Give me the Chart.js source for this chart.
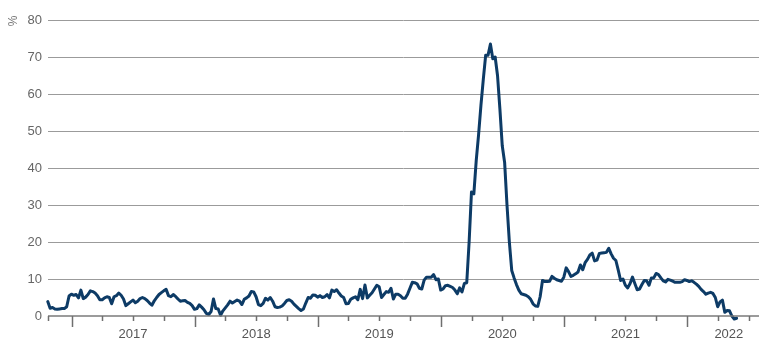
<!DOCTYPE html>
<html><head><meta charset="utf-8">
<script src="https://cdn.jsdelivr.net/npm/chart.js@4/dist/chart.umd.min.js"></script>
<style>html,body{margin:0;padding:0;background:#fff}#wrap{width:770px;height:350px;position:relative}</style>
</head><body><div id="wrap"><canvas id="c" width="770" height="350"></canvas></div>
<script>
// weekly series, first observation late Oct 2016
const startYear = 2016.807;
const weeksPerYear = 52;
const values = [
3.9,2.1,2.3,1.9,1.8,1.9,2.0,2.0,2.5,5.4,
5.9,5.6,5.8,4.9,7.0,4.7,5.1,5.8,6.8,6.6,
6.2,5.5,4.4,4.4,4.9,5.2,5.0,3.3,5.2,5.5,
6.2,5.6,4.6,2.8,3.3,3.8,4.3,3.6,4.0,4.7,
5.0,4.7,4.2,3.5,2.9,4.1,5.0,5.8,6.3,6.8,
7.2,5.5,5.2,5.8,5.3,4.6,4.0,4.1,4.2,3.7,
3.4,2.8,1.8,2.0,3.0,2.4,1.7,0.7,0.4,1.2,
4.6,2.0,1.9,0.2,1.4,2.2,3.0,4.0,3.5,3.9,
4.3,4.0,3.1,4.5,4.9,5.4,6.6,6.5,5.2,3.1,
2.8,3.4,4.8,4.3,5.0,4.0,2.5,2.3,2.4,2.7,
3.4,4.2,4.4,4.0,3.2,2.6,2.0,1.5,1.9,3.5,
5.0,4.8,5.7,5.6,5.1,5.5,5.0,5.2,5.8,4.9,
7.0,6.6,7.1,6.2,5.4,5.0,3.3,3.4,4.5,4.9,
5.2,4.4,7.2,4.7,8.4,4.9,5.6,6.3,7.3,8.3,
7.9,5.0,5.8,6.6,6.4,7.5,4.6,5.9,5.9,5.5,
4.8,4.8,5.9,7.5,9.1,9.0,8.7,7.5,7.3,9.7,
10.5,10.5,10.5,11.2,9.8,10.0,7.0,7.3,8.2,8.3,
8.0,7.7,7.0,6.0,7.6,6.5,8.8,9.0,20.0,33.5,
33.0,42.0,49.0,57.0,64.0,70.5,70.5,73.5,69.5,70.0,
65.0,56.0,46.0,41.5,30.0,20.0,12.3,10.3,8.5,7.0,
6.0,5.8,5.6,5.2,4.5,3.3,2.7,2.6,5.2,9.6,
9.3,9.3,9.4,10.7,10.2,9.8,9.6,9.4,10.5,13.0,
12.0,10.7,11.0,11.4,11.9,13.8,12.5,14.4,15.3,16.5,
17.0,14.9,15.1,16.9,17.0,17.1,17.2,18.3,16.8,15.6,
15.0,12.4,9.6,10.0,8.3,7.6,8.8,10.5,8.8,7.1,
7.3,8.5,9.6,9.5,8.3,10.3,10.3,11.5,11.2,10.3,
9.5,9.2,9.9,9.7,9.4,9.1,9.1,9.1,9.3,9.8,
9.6,9.3,9.5,9.1,8.6,8.0,7.2,6.6,5.9,6.2,
6.4,6.1,5.0,2.5,3.8,4.3,1.0,1.5,1.4,0.0,
-0.8,-0.6
];
const yTicks = [0,10,20,30,40,50,60,70,80];
const yearLabels = ['2017','2018','2019','2020','2021','2022'];
const yearLabelAt = [2017.5,2018.5,2019.5,2020.5,2021.5,2022.34];
const axisMin = 2016.809, axisMax = 2022.585;

const points = values.map((v,i)=>({x:startYear + i/weeksPerYear, y:v}));

const FONT = '"Liberation Sans", Arial, Helvetica, sans-serif';

const axisDeco = {
  id:'axisDeco',
  afterDraw(chart){
    const ctx = chart.ctx, xs = chart.scales.x, ca = chart.chartArea;
    ctx.save();
    // baseline
    ctx.strokeStyle = '#7a7a7a'; ctx.lineWidth = 1.5;
    ctx.beginPath(); ctx.moveTo(ca.left, ca.bottom); ctx.lineTo(ca.right, ca.bottom); ctx.stroke();
    // quarter ticks, long at year boundaries
    ctx.strokeStyle = '#6f6f6f'; ctx.lineWidth = 1.5;
    const first = Math.ceil(axisMin*4)/4;
    for (let q = first; q <= axisMax + 1e-9; q += 0.25) {
      const px = Math.round(xs.getPixelForValue(q)) + 0.5;
      const isYear = Math.abs(q - Math.round(q)) < 1e-6;
      ctx.beginPath(); ctx.moveTo(px, ca.bottom); ctx.lineTo(px, ca.bottom + (isYear ? 11 : 5)); ctx.stroke();
    }
    // left edge tick
    ctx.beginPath(); ctx.moveTo(ca.left + 0.5, ca.bottom); ctx.lineTo(ca.left + 0.5, ca.bottom + 5); ctx.stroke();
    // year labels
    ctx.fillStyle = '#555'; ctx.font = '13px ' + FONT; ctx.textAlign = 'center'; ctx.textBaseline = 'middle';
    yearLabels.forEach((t,i)=>{ ctx.fillText(t, xs.getPixelForValue(yearLabelAt[i]), ca.bottom + 18); });
    // unit label
    ctx.translate(14, ca.top + 1); ctx.rotate(-Math.PI/2);
    ctx.fillStyle = '#777'; ctx.font = '12px ' + FONT;
    ctx.fillText('%', 0, 0);
    ctx.restore();
  }
};

new Chart(document.getElementById('c'), {
  type:'line',
  data:{ datasets:[{ data:points, borderColor:'#0d3b66', borderWidth:3, pointRadius:0, tension:0, clip:false, borderJoinStyle:'round', borderCapStyle:'round' }]},
  options:{
    responsive:false, animation:false,
    layout:{ padding:{ top:20, right:11, left:0, bottom:0 } },
    plugins:{ legend:{display:false}, tooltip:{enabled:false} },
    scales:{
      x:{ type:'linear', min:axisMin, max:axisMax, grid:{display:false}, border:{display:false}, ticks:{display:false},
          afterFit(s){ s.height = 34; } },
      y:{ min:0, max:80, afterBuildTicks(s){ s.ticks = yTicks.map(v=>({value:v})); },
          ticks:{ color:'#666', font:{ family:FONT, size:13 }, padding:6 },
          grid:{ color:(c)=> c.tick && c.tick.value === 0 ? 'rgba(0,0,0,0)' : '#9b9b9b', lineWidth:1, drawTicks:false },
          border:{ display:false },
          afterFit(s){ s.width = 48; } }
    }
  },
  plugins:[axisDeco]
});
</script></body></html>
